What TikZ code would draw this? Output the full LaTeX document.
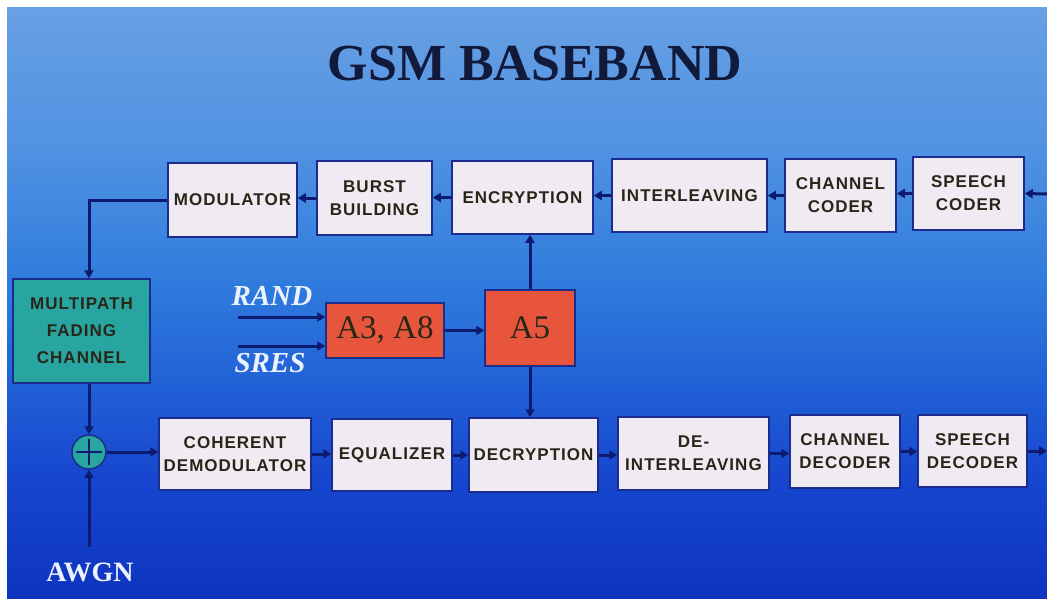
\documentclass[tikz,border=0pt]{standalone}
\usepackage{fontspec}
\setmainfont{Liberation Serif}
\newfontfamily\boxfont{Liberation Sans}[LetterSpace=6]
\usetikzlibrary{arrows.meta}
\definecolor{bgA}{RGB}{14,52,192}
\definecolor{bgB}{RGB}{22,70,206}
\definecolor{bgC}{RGB}{34,98,215}
\definecolor{bgD}{RGB}{48,124,221}
\definecolor{bgE}{RGB}{80,146,226}
\definecolor{bgF}{RGB}{104,160,228}
\definecolor{boxfill}{RGB}{240,235,242}
\definecolor{bord}{RGB}{27,44,140}
\definecolor{boxtext}{RGB}{40,38,24}
\definecolor{arrc}{RGB}{12,26,112}
\definecolor{redfill}{RGB}{230,85,60}
\definecolor{tealfill}{RGB}{40,165,160}
\definecolor{titlec}{RGB}{18,26,60}
\definecolor{wtext}{RGB}{236,242,255}
\pgfdeclareverticalshading{gsmbg}{100bp}{color(0bp)=(bgA); color(25bp)=(bgA); color(35bp)=(bgB); color(43.4bp)=(bgC); color(51.9bp)=(bgD); color(62.9bp)=(bgE); color(75bp)=(bgF); color(100bp)=(bgF)}
\tikzset{
  blk/.style={draw=bord, line width=1.5pt, fill=boxfill, text=boxtext, align=center, inner sep=0pt,
    font=\boxfont\bfseries\fontsize{17}{23}\selectfont},
  redblk/.style={draw=bord, line width=1.5pt, fill=redfill, text=boxtext, inner sep=0pt,
    font=\fontsize{33}{33}\selectfont},
  arr/.style={draw=arrc, line width=3pt, -{Triangle[length=8pt,width=9pt]}},
  wlab/.style={text=wtext, font=\bfseries\itshape\fontsize{29}{29}\selectfont, inner sep=0pt},
}
\begin{document}
\begin{tikzpicture}[x=1pt,y=-1pt]
\useasboundingbox (0,0) rectangle (1047,600);
\fill[white] (0,0) rectangle (1047,600);
\shade[shading=gsmbg] (7,7) rectangle (1047,598);

\node[text=titlec, font=\bfseries\fontsize{52}{52}\selectfont, inner sep=0pt] (title) at (535,64) {GSM BASEBAND};

% top row
\node[blk, minimum width=129pt, minimum height=74pt] (mod) at (232.5,200) {MODULATOR};
\node[blk, minimum width=115pt, minimum height=74pt] (burst) at (374.5,198) {BURST\\BUILDING};
\node[blk, minimum width=141pt, minimum height=73pt] (enc) at (522.5,197.5) {ENCRYPTION};
\node[blk, minimum width=155pt, minimum height=73pt] (intl) at (689.5,195.5) {INTERLEAVING};
\node[blk, minimum width=111pt, minimum height=73pt] (chc) at (840.5,195.5) {CHANNEL\\CODER};
\node[blk, minimum width=111pt, minimum height=73pt] (spc) at (968.5,193.5) {SPEECH\\CODER};

% bottom row
\node[blk, minimum width=152pt, minimum height=72pt] (coh) at (235,454) {COHERENT\\DEMODULATOR};
\node[blk, minimum width=120pt, minimum height=72pt] (eq) at (392,455) {EQUALIZER};
\node[blk, minimum width=129pt, minimum height=74pt] (dec) at (533.5,455) {DECRYPTION};
\node[blk, minimum width=151pt, minimum height=73pt] (deint) at (693.5,453.5) {DE-\\INTERLEAVING};
\node[blk, minimum width=110pt, minimum height=73pt] (chd) at (845,451.5) {CHANNEL\\DECODER};
\node[blk, minimum width=109pt, minimum height=72pt] (spd) at (972.5,451) {SPEECH\\DECODER};

% channel and sum
\node[blk, fill=tealfill, font=\boxfont\bfseries\fontsize{17}{27}\selectfont, minimum width=137pt, minimum height=104pt] (mf) at (81.5,331) {MULTIPATH\\FADING\\CHANNEL};
\node[circle, draw=bord, line width=1.5pt, fill=tealfill, minimum size=34pt, inner sep=0pt] (sum) at (89,452) {};
\draw[arrc, line width=1.4pt] ([xshift=-13pt]sum.center) -- ([xshift=13pt]sum.center);
\draw[arrc, line width=1.4pt] ([yshift=-13pt]sum.center) -- ([yshift=13pt]sum.center);

% security blocks
\node[redblk, minimum width=118pt, minimum height=55pt] (a38) at (385,330.5) {A3, A8};
\node[redblk, minimum width=90pt, minimum height=76pt] (a5) at (530,328) {A5};

\node[wlab] (rand) at (272,296) {RAND};
\node[wlab] (sres) at (270,363) {SRES};
\node[text=wtext, font=\bfseries\fontsize{28}{28}\selectfont, inner sep=0pt] (awgn) at (90,572) {AWGN};

\coordinate (inR) at (1047,194);
\coordinate (outR) at (1047,451);
\coordinate (rin) at (238,317);
\coordinate (sin) at (238,346);
\coordinate (awgnin) at (89,547);

% top chain (right to left)
\draw[arr] (inR) -- (spc.east);
\draw[arr] (spc.west) -- (spc.west -| chc.east);
\draw[arr] (chc.west) -- (chc.west -| intl.east);
\draw[arr] (intl.west) -- (intl.west -| enc.east);
\draw[arr] (enc.west) -- (enc.west -| burst.east);
\draw[arr] (burst.west) -- (burst.west -| mod.east);
\draw[arr] (mod.west) -| (sum.north |- mf.north);
\draw[arr] (sum.north |- mf.south) -- (sum.north);
\draw[arr] (awgnin) -- (sum.south);

% bottom chain
\draw[arr] (sum.east) -- (sum.east -| coh.west);
\draw[arr] (coh.east) -- (coh.east -| eq.west);
\draw[arr] (eq.east) -- (eq.east -| dec.west);
\draw[arr] (dec.east) -- (dec.east -| deint.west);
\draw[arr] (deint.east) -- (deint.east -| chd.west);
\draw[arr] (chd.east) -- (chd.east -| spd.west);
\draw[arr] (spd.east) -- (outR);

% keys
\draw[arr] (rin) -- (rin -| a38.west);
\draw[arr] (sin) -- (sin -| a38.west);
\draw[arr] (a38.east) -- (a38.east -| a5.west);
\draw[arr] (a5.north) -- (a5.north |- enc.south);
\draw[arr] (a5.south) -- (a5.south |- dec.north);
\end{tikzpicture}
\end{document}
